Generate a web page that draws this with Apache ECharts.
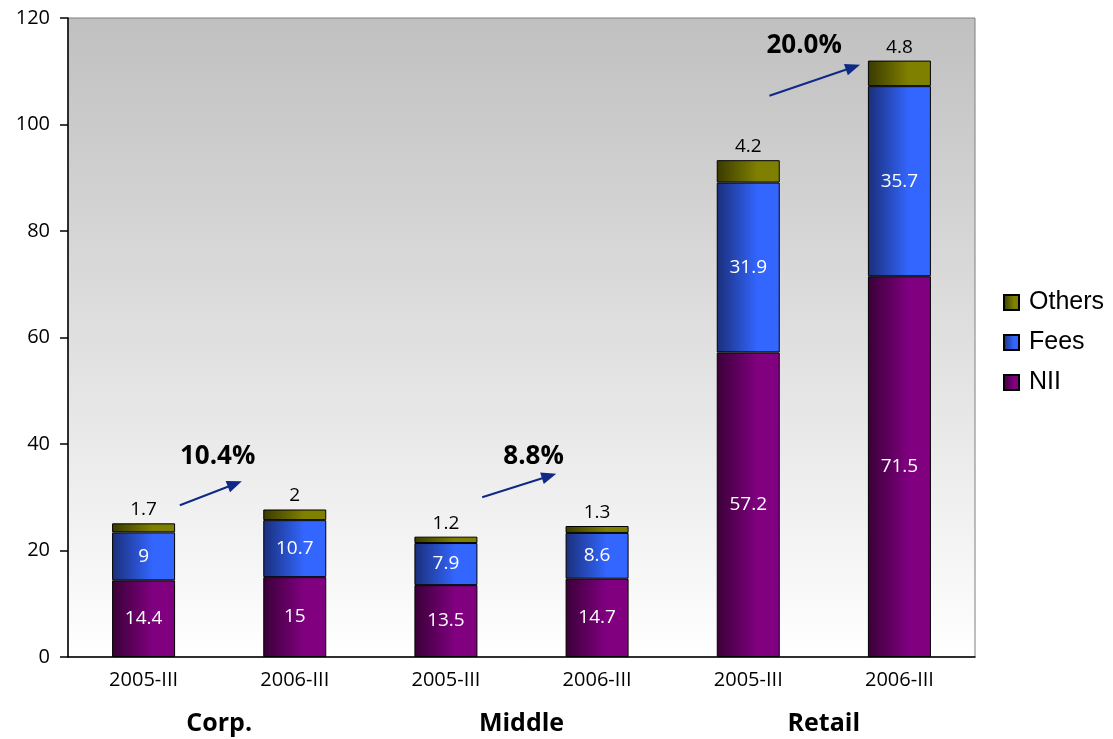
<!DOCTYPE html>
<html>
<head>
<meta charset="utf-8">
<script src="https://cdn.jsdelivr.net/npm/echarts@6/dist/echarts.min.js"></script>
<style>
  html, body { margin: 0; padding: 0; background: #ffffff; }
  #chart { width: 1113px; height: 739px; }
</style>
</head>
<body>
<div id="chart"></div>
<script>
// Revenue breakdown by segment, 2005-III vs 2006-III
const periods = ['2005-III', '2006-III', '2005-III', '2006-III', '2005-III', '2006-III'];
const segments = ['Corp.', 'Middle', 'Retail'];
const nii = [14.4, 15, 13.5, 14.7, 57.2, 71.5];
const fees = [9, 10.7, 7.9, 8.6, 31.9, 35.7];
const others = [1.7, 2, 1.2, 1.3, 4.2, 4.8];
const yTicks = { min: 0, max: 120, step: 20 };

// Growth annotations: arrow start / end and label anchor (category index, value)
const arrowFrom = [[0.24, 28.5], [2.24, 30.0], [4.14, 105.4]];
const arrowTo = [[0.65, 33.0], [2.73, 34.4], [4.74, 111.2]];
const growthLabelAt = [[0.49, 37.7], [2.58, 37.6], [4.37, 114.9]];

const totals = nii.map((v, i) => v + fees[i] + others[i]);
const growthText = segments.map((_, g) => {
  const a = totals[g * 2], b = totals[g * 2 + 1];
  return ((b / a - 1) * 100).toFixed(1) + '%';
});

function hGrad(dark, light) {
  return new echarts.graphic.LinearGradient(0, 0, 1, 0, [
    { offset: 0, color: dark },
    { offset: 0.65, color: light },
    { offset: 1, color: light }
  ]);
}

const FONT = 'Open Sans';
const arrowColor = '#0f2a86';

const chart = echarts.init(document.getElementById('chart'), null, { renderer: 'canvas' });

const annotationData = arrowFrom.map((p, i) => [p[0], p[1], arrowTo[i][0], arrowTo[i][1], growthLabelAt[i][0], growthLabelAt[i][1]]);

chart.setOption({
  animation: false,
  backgroundColor: '#ffffff',
  grid: {
    left: 68, right: 138, top: 18, bottom: 82,
    show: true,
    borderColor: '#7f7f7f',
    borderWidth: 1,
    backgroundColor: new echarts.graphic.LinearGradient(0, 0, 0, 1, [
      { offset: 0, color: '#c0c0c0' },
      { offset: 1, color: '#ffffff' }
    ])
  },
  legend: {
    orient: 'vertical',
    left: 998,
    top: 285,
    itemWidth: 15,
    itemHeight: 15,
    itemGap: 15,
    icon: 'rect',
    data: ['Others', 'Fees', 'NII'],
    textStyle: { fontFamily: 'Liberation Sans', fontSize: 25, color: '#000', padding: [0, 0, 0, 5] }
  },
  xAxis: [
    {
      type: 'category',
      data: periods,
      axisLine: { onZero: false, lineStyle: { color: '#000', width: 1.5 } },
      axisTick: { length: 11, lineStyle: { color: '#000', width: 1.5 } },
      axisLabel: { color: '#000', fontFamily: FONT, fontSize: 20, margin: 13 }
    },
    {
      type: 'category',
      data: segments,
      position: 'bottom',
      axisLine: { show: false },
      axisTick: { show: false },
      axisLabel: { color: '#000', fontFamily: FONT, fontSize: 25, fontWeight: 'bold', margin: 54 }
    },
    {
      type: 'value',
      min: -0.5,
      max: 5.5,
      show: false
    }
  ],
  yAxis: {
    type: 'value',
    min: yTicks.min,
    max: yTicks.max,
    interval: yTicks.step,
    axisLine: { show: true, onZero: false, lineStyle: { color: '#000', width: 1.5 } },
    axisTick: { show: true, length: 8, lineStyle: { color: '#000', width: 1.5 } },
    splitLine: { show: false },
    axisLabel: { color: '#000', fontFamily: FONT, fontSize: 20, margin: 18 }
  },
  series: [
    {
      name: 'NII',
      type: 'bar',
      stack: 'rev',
      barWidth: 63,
      data: nii,
      itemStyle: { color: hGrad('#3a0038', '#800080'), borderColor: '#000', borderWidth: 1 },
      label: { show: true, position: 'inside', color: '#fff', fontFamily: FONT, fontSize: 19 }
    },
    {
      name: 'Fees',
      type: 'bar',
      stack: 'rev',
      barWidth: 63,
      data: fees,
      itemStyle: { color: hGrad('#1a2f7a', '#3366ff'), borderColor: '#000', borderWidth: 1 },
      label: { show: true, position: 'inside', color: '#fff', fontFamily: FONT, fontSize: 19 }
    },
    {
      name: 'Others',
      type: 'bar',
      stack: 'rev',
      barWidth: 63,
      data: others,
      itemStyle: { color: hGrad('#3a3a00', '#808000'), borderColor: '#000', borderWidth: 1 },
      label: { show: true, position: 'top', distance: 4, color: '#000', fontFamily: FONT, fontSize: 19 }
    },
    {
      name: 'growth',
      type: 'custom',
      xAxisIndex: 2,
      yAxisIndex: 0,
      data: annotationData,
      encode: { x: [0, 2, 4], y: [1, 3, 5] },
      silent: true,
      z: 10,
      renderItem: function (params, api) {
        const p0 = api.coord([api.value(0), api.value(1)]);
        const p1 = api.coord([api.value(2), api.value(3)]);
        const pt = api.coord([api.value(4), api.value(5)]);
        const dx = p1[0] - p0[0], dy = p1[1] - p0[1];
        const len = Math.sqrt(dx * dx + dy * dy);
        const ux = dx / len, uy = dy / len;
        const headLen = 15, headHalf = 6;
        const bx = p1[0] - ux * headLen, by = p1[1] - uy * headLen;
        const nx = -uy, ny = ux;
        return {
          type: 'group',
          children: [
            {
              type: 'line',
              shape: { x1: p0[0], y1: p0[1], x2: bx + ux * 2, y2: by + uy * 2 },
              style: { stroke: arrowColor, lineWidth: 2 }
            },
            {
              type: 'polygon',
              shape: { points: [[p1[0], p1[1]], [bx + nx * headHalf, by + ny * headHalf], [bx - nx * headHalf, by - ny * headHalf]] },
              style: { fill: arrowColor }
            },
            {
              type: 'text',
              style: {
                x: pt[0], y: pt[1],
                text: growthText[params.dataIndex],
                fill: '#000',
                font: 'bold 26px "Open Sans"',
                align: 'center',
                verticalAlign: 'middle'
              }
            }
          ]
        };
      }
    }
  ]
});
</script>
</body>
</html>
